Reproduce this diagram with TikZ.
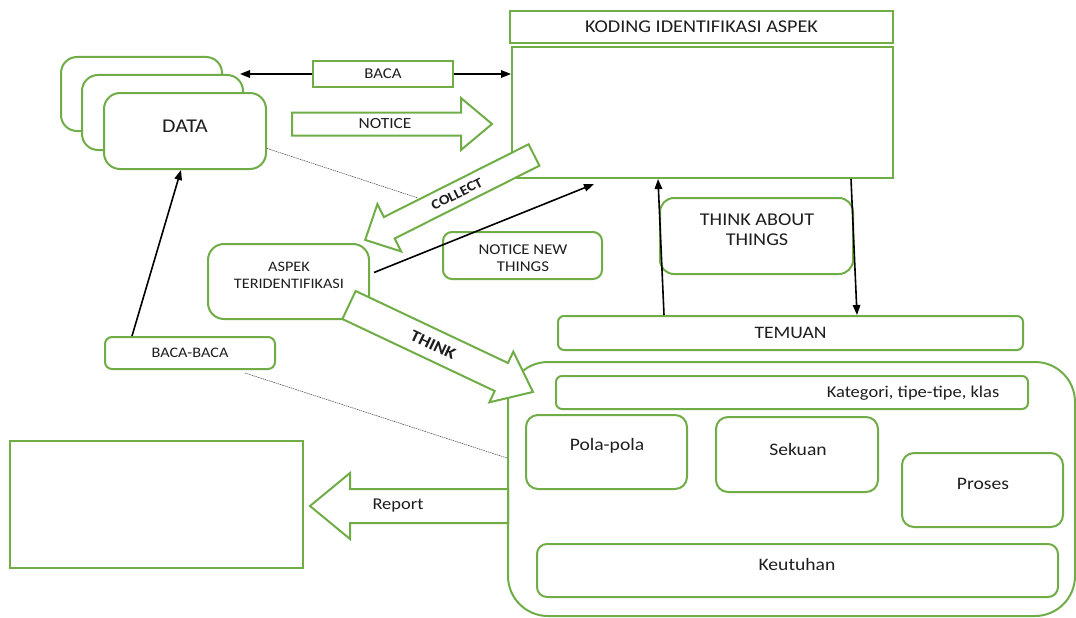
\documentclass[tikz,border=0pt]{standalone}
\usepackage{fontspec}
\setmainfont{Carlito}[FakeStretch=1.12]
\usetikzlibrary{arrows.meta,calc}
\definecolor{grn}{HTML}{70AD47}
\definecolor{txt}{HTML}{1E1E1E}
\newcommand\fsz[2]{\fontsize{#1}{#2}\selectfont}
\begin{document}
\begin{tikzpicture}[x=1pt,y=-1pt,
  gbox/.style={draw=grn, line width=2pt, fill=white, inner sep=0pt},
  rbox/.style={gbox, rounded corners=#1},
  rbox/.default=10pt,
  barrow/.style={draw=grn, line width=2pt, fill=white, line join=miter},
  blk/.style={draw=black, line width=1.6pt, -{Triangle[length=10pt,width=7.5pt]}},
  thinline/.style={draw=black!75, line width=0.5pt, dash pattern=on 1.5pt off 0.8pt},
  lbl/.style={text=txt, align=center, inner sep=0pt}]
\useasboundingbox (0,0) rectangle (1076,618);
\fill[white] (0,0) rectangle (1076,618);

\coordinate (bbdot) at (245,373);
\coordinate (coldot) at (418,198);

% DATA stack
\node[rbox=16pt, minimum width=161pt, minimum height=74pt] (data3) at (141.5,94) {};
\node[rbox=16pt, minimum width=161pt, minimum height=75pt] (data2) at (162.5,112.5) {};
\node[rbox=16pt, minimum width=162pt, minimum height=76pt] (data1) at (185,131) {};
\node[lbl, font=\fsz{19.5}{22}] (datat) at (185,126) {DATA};

% BACA
\node[gbox, minimum width=140pt, minimum height=26pt, font=\fsz{15}{17}, text=txt] (baca) at (383,74) {BACA};

% KODING
\node[gbox, minimum width=383pt, minimum height=32pt, font=\fsz{18}{20}, text=txt] (koding) at (701.5,27) {KODING IDENTIFIKASI ASPEK};
\node[gbox, minimum width=381pt, minimum height=131pt] (big) at (702.5,112.5) {};

% ASPEK
\node[rbox=16pt, minimum width=161pt, minimum height=75pt] (aspek) at (288.5,281.5) {};
\node[lbl, font=\fsz{14.5}{17}] (aspekt) at (289,275.5) {ASPEK\\TERIDENTIFIKASI};

% NOTICE NEW THINGS
\node[rbox=9pt, minimum width=159pt, minimum height=47pt] (nnt) at (522.5,255.5) {};
\node[lbl, font=\fsz{15}{17}] (nntt) at (523,258) {NOTICE NEW\\THINGS};

% BACA-BACA
\node[rbox=7pt, minimum width=170pt, minimum height=32pt, font=\fsz{14.5}{16}, text=txt] (bb) at (190,353) {BACA-BACA};

% THINK ABOUT THINGS
\node[rbox=14pt, minimum width=193pt, minimum height=76pt] (tat) at (756.5,236) {};
\node[lbl, font=\fsz{18}{20.5}] (tatt) at (757,229.5) {THINK ABOUT\\THINGS};

% TEMUAN
\node[rbox=6pt, minimum width=465pt, minimum height=34pt, font=\fsz{17.5}{19}, text=txt] (temuan) at (790.5,333) {TEMUAN};

% outer results box
\node[rbox=40pt, minimum width=567pt, minimum height=254pt] (outer) at (791.5,489) {};
\node[rbox=6pt, minimum width=472pt, minimum height=33pt] (kat) at (792,392.5) {};
\node[lbl, font=\fsz{16.5}{18}] (katt) at (913,393) {Kategori, tipe-tipe, klas};
\node[rbox=12pt, minimum width=161pt, minimum height=74pt] (pola) at (606.5,452) {};
\node[lbl, font=\fsz{17.5}{19}] (polat) at (607,446) {Pola-pola};
\node[rbox=12pt, minimum width=162pt, minimum height=75pt] (sek) at (797,454.5) {};
\node[lbl, font=\fsz{17.5}{19}] (sekt) at (798,449) {Sekuan};
\node[rbox=12pt, minimum width=161pt, minimum height=74pt] (pros) at (982.5,490) {};
\node[lbl, font=\fsz{17.5}{19}] (prost) at (983,484) {Proses};
\node[rbox=10pt, minimum width=521pt, minimum height=53pt] (keu) at (797.5,570.5) {};
\node[lbl, font=\fsz{17.5}{19}] (keut) at (797,564) {Keutuhan};

% report box
\node[gbox, minimum width=293pt, minimum height=127pt] (report) at (156.5,504.5) {};

% thin dotted links
\draw[thinline] (data1.-12) -- (coldot);
\draw[thinline] (bbdot) -- (outer.west |- 0,458);

% NOTICE block arrow
\begin{scope}[shift={(292,124)}]
  \draw[barrow] (0,-11.5)--(169,-11.5)--(169,-26)--(200,0)--(169,26)--(169,11.5)--(0,11.5)--cycle;
  \node[lbl, font=\fsz{15.5}{17}] (noticet) at (93,0) {NOTICE};
\end{scope}

% COLLECT block arrow
\begin{scope}[shift={(534,155)}, rotate=206.7]
  \draw[barrow] (0,-12)--(162,-12)--(162,-26.5)--(189,0)--(162,26.5)--(162,12)--(0,12)--cycle;
\end{scope}
\node[lbl, font=\bfseries\fsz{14}{15}, rotate=26.7] (collectt) at (457,194) {COLLECT};

% THINK block arrow
\begin{scope}[shift={(349,305)}, rotate=-25.3]
  \draw[barrow] (0,-15.5)--(168.5,-15.5)--(168.5,-28)--(203.5,0)--(168.5,28)--(168.5,15.5)--(0,15.5)--cycle;
\end{scope}
\node[lbl, font=\bfseries\fsz{16.5}{18}, rotate=-25.3] (thinkt) at (433,345) {THINK};

% Report block arrow
\begin{scope}[shift={(508,506)}, rotate=180]
  \draw[barrow] (0,-17)--(158,-17)--(158,-33)--(198,0)--(158,33)--(158,17)--(0,17)--cycle;
\end{scope}
\node[lbl, font=\fsz{16.5}{18}] (reportt) at (398,506) {Report};

% black arrows
\draw[blk] (baca.west) -- (240,74);
\draw[blk] (baca.east) -- (big.west |- baca.east);
\draw[blk] ($(bb.north west)+(28,0)$) -- ($(data1.south)+(-4,0)$);
\draw[blk] ($(aspek.east)+(4,-9)$) -- ($(big.south west)+(83,5)$);
\draw[blk] ($(temuan.north west)+(107,0)$) -- ($(big.south west)+(147,0)$);
\draw[blk] ($(big.south west)+(340,0)$) -- ($(temuan.north west)+(300,0)$);
\end{tikzpicture}
\end{document}
